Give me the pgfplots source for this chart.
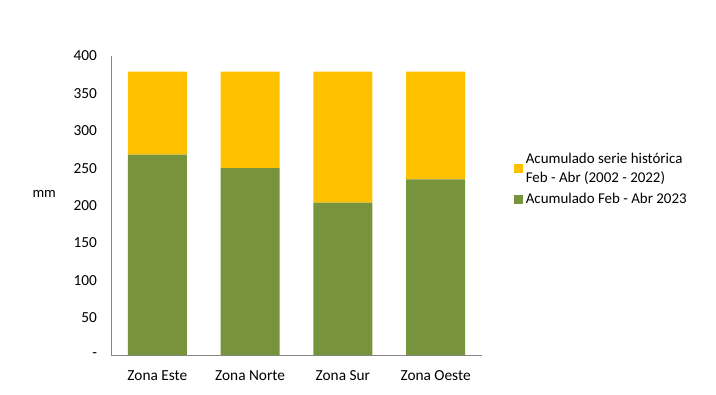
\documentclass[border=0pt]{standalone}
\usepackage{pgfplots}
\pgfplotsset{compat=1.18}
\usepackage{fontspec}
\setmainfont{Carlito}
\definecolor{histy}{HTML}{FFC000}
\definecolor{greenb}{HTML}{77933C}
\definecolor{axgray}{HTML}{868686}
\begin{document}
\begin{tikzpicture}
\path[use as bounding box] (0,0) rectangle (537pt,295.5pt);
\begin{axis}[
  at={(83.25pt,29.25pt)}, anchor=south west,
  scale only axis, width=278.25pt, height=224.25pt,
  ybar stacked, bar width=44.25pt,
  xmin=-0.5, xmax=3.5, ymin=0, ymax=400,
  xtick={0,1,2,3},
  xticklabels={Zona Este, Zona Norte, Zona Sur, Zona Oeste},
  ytick={0,50,100,150,200,250,300,350,400},
  yticklabels={-,50,100,150,200,250,300,350,400},
  /pgf/number format/assume math mode=true,
  axis x line*=bottom, axis y line*=left,
  axis line style={axgray, -},
  major tick length=0pt,
  tick label style={font=\fontsize{11.5}{13}\selectfont},
  xticklabel style={yshift=-8pt},
  yticklabel style={xshift=-7pt},
  legend style={draw=none, at={(1.075,0.695)}, anchor=north west,
    font=\fontsize{11.2}{14.3}\selectfont, cells={align=left},
    row sep=3pt},
  legend cell align=left,
  reverse legend,
  legend image code/.code={\fill[#1] (0pt,-3.4pt) rectangle (6.8pt,3.4pt);},
  clip=false,
]
\addplot[fill=greenb, draw=none] coordinates {(0,268) (1,250) (2,204) (3,235)};
\addlegendentry{Acumulado Feb - Abr 2023}
\addplot[fill=histy, draw=none] coordinates {(0,111) (1,129) (2,175) (3,144)};
\addlegendentry{Acumulado serie histórica\\Feb - Abr (2002 - 2022)}
\node[font=\fontsize{11}{12}\selectfont] at (rel axis cs:-0.18,0.54) {mm};
\end{axis}
\end{tikzpicture}
\end{document}
